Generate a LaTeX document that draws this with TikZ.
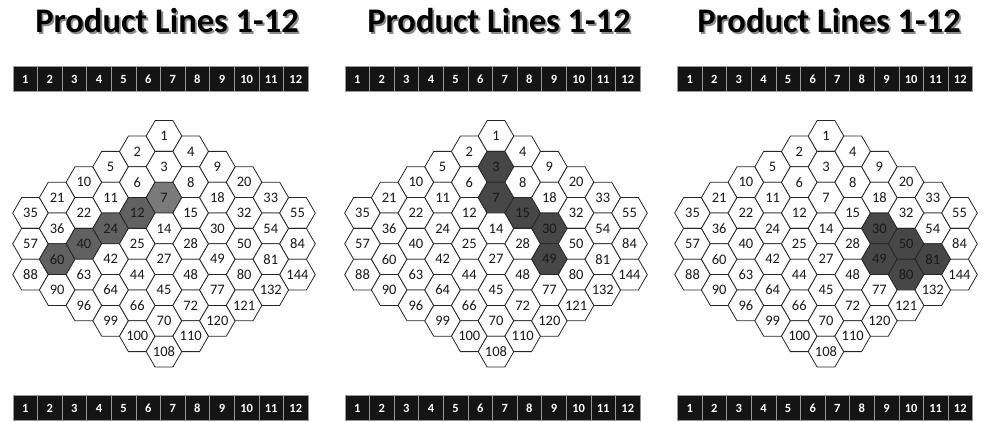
\documentclass[tikz,border=0pt]{standalone}
\usepackage{fontspec}
\setmainfont{Carlito}
\tikzset{
  hexcell/.style={draw=black!85, line width=0.8pt, fill=white},
  litcell/.style={fill=black!52},
  midcell/.style={fill=black!62},
  darkcell/.style={fill=black!72},
  numtxt/.style={inner sep=0pt, text=black!90, font=\fontsize{14.5}{14.5}\selectfont},
  stripbox/.style={draw=black!40, line width=0.6pt, fill=black!92, minimum width=24.6pt,
    minimum height=24.5pt, inner sep=0pt, text=white, font=\fontsize{12.5}{13}\selectfont\bfseries},
  titletxt/.style={inner sep=0pt, anchor=base, font=\fontsize{34.5}{34.5}\selectfont\bfseries},
  % highlighted cells: panel-column-row
  h1-5-2/.style={litcell}, h1-4-2/.style={midcell}, h1-3-2/.style={midcell},
  h1-2-2/.style={midcell}, h1-1-2/.style={midcell},
  h2-5-1/.style={darkcell}, h2-5-2/.style={darkcell}, h2-6-2/.style={darkcell},
  h2-7-2/.style={darkcell}, h2-7-3/.style={darkcell},
  h3-7-2/.style={darkcell}, h3-7-3/.style={darkcell}, h3-8-2/.style={darkcell},
  h3-8-3/.style={darkcell}, h3-9-2/.style={darkcell}
}
\begin{document}
\begin{tikzpicture}[x=1pt,y=1pt,yscale=-1,xscale=1]
    \useasboundingbox (0,0) rectangle (983,422);
    \foreach \p/\cx/\sx in {1/164/160.5, 2/496/492.5, 3/826/825}{
      % Title with shadow
      \node[titletxt, text=black!45] (t\p s) at (\cx+4.8,34.8) {Product Lines 1-12};
      \node[titletxt] (t\p) at (\cx+3,33) {Product Lines 1-12};
      % number strips
      \foreach \n in {1,...,12}{
        \node[stripbox] (top\p-\n) at ({\sx+24.6*(\n-6.5)},79) {\n};
        \node[stripbox] (bot\p-\n) at ({\sx+24.6*(\n-6.5)},408) {\n};
      }
      % hex grid, column by column
      \foreach \k/\vals in {0/{35,57,88}, 1/{21,36,60,90}, 2/{10,22,40,63,96},
          3/{5,11,24,42,64,99}, 4/{2,6,12,25,44,66,100}, 5/{1,3,7,14,27,45,70,108},
          6/{4,8,15,28,48,72,110}, 7/{9,18,30,49,77,120}, 8/{20,32,50,80,121},
          9/{33,54,81,132}, 10/{55,84,144}}{
        \foreach \v [count=\r from 0] in \vals{
          \pgfmathsetmacro\hx{\cx+26.7*(\k-5)}
          \pgfmathsetmacro\hy{136+15.4*abs(\k-5)+30.8*\r}
          \draw[hexcell, h\p-\k-\r/.try] (\hx,\hy) ++(17.8,0) -- ++(-8.9,15.4) -- ++(-17.8,0)
            -- ++(-8.9,-15.4) -- ++(8.9,-15.4) -- ++(17.8,0) -- cycle;
          \node[numtxt] (c\p-\k-\r) at (\hx,\hy) {\v};
        }
      }
    }
\end{tikzpicture}
\end{document}
